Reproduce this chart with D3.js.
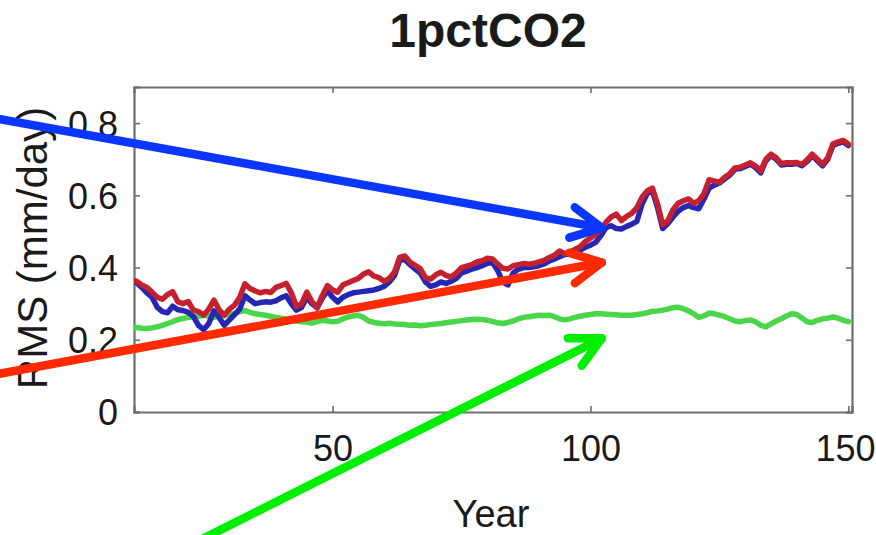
<!DOCTYPE html>
<html>
<head>
<meta charset="utf-8">
<script src="https://cdn.jsdelivr.net/npm/d3@7"></script>
<style>
  html, body { margin: 0; padding: 0; background: #fff; }
  svg { display: block; }
  text { font-family: "Liberation Sans", Arial, Helvetica, sans-serif; fill: #1a1a1a; }
</style>
</head>
<body>
<svg id="chart" width="876" height="535"></svg>
<script>
// Model years (annual values, years 11-150)
const years = d3.range(11, 151);

// RMS precipitation difference (mm/day), three series
const redSeries = [
  0.365, 0.362, 0.352, 0.345, 0.332, 0.318, 0.312, 0.325, 0.333, 0.305,
  0.300, 0.306, 0.282, 0.278, 0.268, 0.285, 0.310, 0.283, 0.268, 0.285,
  0.296, 0.318, 0.355, 0.342, 0.335, 0.330, 0.334, 0.331, 0.345, 0.350,
  0.356, 0.330, 0.292, 0.300, 0.332, 0.305, 0.290, 0.322, 0.350, 0.338,
  0.332, 0.352, 0.358, 0.364, 0.370, 0.382, 0.388, 0.376, 0.372, 0.362,
  0.370, 0.388, 0.428, 0.432, 0.415, 0.406, 0.397, 0.372, 0.368, 0.380,
  0.387, 0.378, 0.374, 0.385, 0.400, 0.404, 0.408, 0.416, 0.419, 0.426,
  0.424, 0.410, 0.398, 0.396, 0.405, 0.408, 0.411, 0.409, 0.411, 0.416,
  0.420, 0.428, 0.434, 0.446, 0.438, 0.444, 0.450, 0.458, 0.472, 0.482,
  0.492, 0.505, 0.525, 0.540, 0.548, 0.530, 0.542, 0.550, 0.566, 0.595,
  0.612, 0.620, 0.576, 0.518, 0.530, 0.560, 0.578, 0.585, 0.590, 0.578,
  0.585, 0.605, 0.643, 0.640, 0.636, 0.650, 0.660, 0.676, 0.678, 0.684,
  0.690, 0.681, 0.668, 0.700, 0.714, 0.704, 0.688, 0.690, 0.690, 0.691,
  0.686, 0.698, 0.714, 0.700, 0.686, 0.704, 0.742, 0.748, 0.752, 0.742
];
const blueSeries = [
  0.362, 0.358, 0.345, 0.330, 0.318, 0.290, 0.278, 0.275, 0.293, 0.283,
  0.281, 0.276, 0.265, 0.240, 0.228, 0.245, 0.280, 0.262, 0.240, 0.255,
  0.270, 0.285, 0.322, 0.310, 0.300, 0.303, 0.305, 0.304, 0.308, 0.316,
  0.322, 0.300, 0.282, 0.290, 0.318, 0.300, 0.288, 0.315, 0.336, 0.318,
  0.305, 0.318, 0.325, 0.330, 0.332, 0.334, 0.336, 0.338, 0.342, 0.348,
  0.360, 0.378, 0.420, 0.422, 0.408, 0.396, 0.385, 0.360, 0.348, 0.352,
  0.360, 0.356, 0.362, 0.370, 0.385, 0.390, 0.396, 0.400, 0.405, 0.412,
  0.414, 0.392, 0.360, 0.352, 0.385, 0.395, 0.400, 0.400, 0.402, 0.405,
  0.410, 0.418, 0.424, 0.430, 0.436, 0.438, 0.441, 0.448, 0.456, 0.462,
  0.470, 0.488, 0.510, 0.516, 0.508, 0.507, 0.514, 0.520, 0.528, 0.576,
  0.605, 0.612, 0.566, 0.508, 0.522, 0.540, 0.556, 0.566, 0.572, 0.566,
  0.563, 0.590, 0.620, 0.628, 0.634, 0.645, 0.656, 0.672, 0.674, 0.680,
  0.686, 0.677, 0.662, 0.696, 0.710, 0.700, 0.684, 0.686, 0.686, 0.688,
  0.682, 0.694, 0.710, 0.696, 0.682, 0.700, 0.738, 0.744, 0.748, 0.738
];
const greenSeries = [
  0.236, 0.234, 0.232, 0.231, 0.233, 0.236, 0.240, 0.245, 0.250, 0.256,
  0.259, 0.262, 0.263, 0.265, 0.268, 0.266, 0.262, 0.265, 0.268, 0.271,
  0.273, 0.278, 0.281, 0.276, 0.272, 0.270, 0.268, 0.265, 0.262, 0.260,
  0.257, 0.254, 0.252, 0.250, 0.249, 0.246, 0.250, 0.254, 0.252, 0.250,
  0.251, 0.258, 0.263, 0.266, 0.268, 0.262, 0.252, 0.248, 0.246, 0.244,
  0.246, 0.244, 0.243, 0.242, 0.240, 0.241, 0.239, 0.240, 0.242, 0.244,
  0.245, 0.247, 0.249, 0.251, 0.253, 0.255, 0.256, 0.257, 0.256, 0.254,
  0.251, 0.247, 0.245, 0.248, 0.252, 0.258, 0.262, 0.264, 0.266, 0.268,
  0.267, 0.268, 0.264, 0.258, 0.255, 0.258, 0.262, 0.265, 0.268, 0.270,
  0.272, 0.272, 0.271, 0.270, 0.269, 0.268, 0.268, 0.268, 0.270, 0.272,
  0.275, 0.279, 0.280, 0.282, 0.285, 0.289, 0.290, 0.286, 0.280, 0.272,
  0.262, 0.266, 0.274, 0.272, 0.268, 0.264, 0.258, 0.252, 0.250, 0.253,
  0.255, 0.250, 0.240, 0.236, 0.244, 0.252, 0.258, 0.266, 0.272, 0.270,
  0.260, 0.250, 0.248, 0.254, 0.258, 0.260, 0.263, 0.260, 0.254, 0.250
];

const xTicks = [50, 100, 150];
const yTicks = [0, 0.2, 0.4, 0.6, 0.8];

// Annotation arrows: tail and tip in data units (year, mm/day)
const arrowNames = ["blue", "red", "green"];
const arrowTails = [[-14.5, 0.811], [-15.0, 0.105], [25.0, -0.350]];
const arrowTips  = [[102.2, 0.510], [102.2, 0.414], [102.2, 0.204]];

const svg = d3.select("#chart");
const W = 876;
const plot = { left: 134, right: 852, top: 87, bottom: 412 };

const x = d3.scaleLinear().domain([11.5, 150.7]).range([plot.left, plot.right]);
const y = d3.scaleLinear().domain([0, 0.9]).range([plot.bottom, plot.top]);

// Clip region for the data lines
svg.append("defs").append("clipPath").attr("id", "plotClip")
  .append("rect")
  .attr("x", plot.left).attr("y", plot.top)
  .attr("width", plot.right - plot.left).attr("height", plot.bottom - plot.top);

// Title
svg.append("text")
  .attr("x", 488).attr("y", 47)
  .attr("text-anchor", "middle")
  .style("font-size", "48px").style("font-weight", "bold")
  .text("1pctCO2");

// Axes with inward ticks, mirrored on top and right
const axisColor = "#6e6e6e";
const gx = svg.append("g").attr("transform", `translate(0,${plot.bottom})`)
  .call(d3.axisBottom(x).tickValues(xTicks).tickSize(-6).tickPadding(20).tickFormat(d3.format("d")));
const gy = svg.append("g").attr("transform", `translate(${plot.left},0)`)
  .call(d3.axisLeft(y).tickValues(yTicks).tickSize(-6).tickPadding(16).tickFormat(d => d === 0 ? "0" : d3.format(".1f")(d)));
const gxTop = svg.append("g").attr("transform", `translate(0,${plot.top})`)
  .call(d3.axisTop(x).tickValues(xTicks).tickSize(-6).tickFormat(""));
const gyRight = svg.append("g").attr("transform", `translate(${plot.right},0)`)
  .call(d3.axisRight(y).tickValues(yTicks).tickSize(-6).tickFormat(""));

[gx, gy, gxTop, gyRight].forEach(g => {
  g.select(".domain").attr("stroke", axisColor).attr("stroke-width", 2.2);
  g.selectAll(".tick line").attr("stroke", axisColor).attr("stroke-width", 1.6);
  g.selectAll(".tick text")
    .style("font-size", "36px")
    .style("font-family", "'Liberation Sans', Arial, sans-serif")
    .attr("fill", "#1a1a1a");
});
gx.selectAll(".tick text").attr("dy", "0.8em");
gy.selectAll(".tick text").attr("dy", "0.36em");

// Keep the last x tick label inside the canvas edge
gx.selectAll(".tick text").each(function (d) {
  const t = d3.select(this);
  const half = this.getComputedTextLength() / 2;
  const overflow = x(d) + half - (W - 1);
  if (overflow > 0) t.attr("x", -overflow);
});

// Axis labels
svg.append("text")
  .attr("x", 491).attr("y", 527)
  .attr("text-anchor", "middle")
  .style("font-size", "38px")
  .text("Year");

svg.append("text")
  .attr("transform", "translate(47,248) rotate(-90)")
  .attr("text-anchor", "middle")
  .style("font-size", "42px")
  .text("RMS (mm/day)");

// Data lines
const line = d3.line()
  .x((d, i) => x(years[i]))
  .y(d => y(d))
  .curve(d3.curveLinear);

const linesG = svg.append("g").attr("clip-path", "url(#plotClip)");
const seriesDefs = [
  { values: greenSeries, color: "#4ad64a" },
  { values: blueSeries,  color: "#2626b4" },
  { values: redSeries,   color: "#c4202e" }
];
linesG.selectAll("path.series")
  .data(seriesDefs)
  .join("path")
  .attr("class", "series")
  .attr("d", d => line(d.values))
  .attr("fill", "none")
  .attr("stroke", d => d.color)
  .attr("stroke-width", 5.5)
  .attr("stroke-linejoin", "round")
  .attr("stroke-linecap", "round");

// Arrows pointing to each series
const arrowColors = { blue: "#0a36ff", red: "#ff2a00", green: "#00ee00" };
const headLen = 34, headAngle = 27 * Math.PI / 180;
arrowNames.forEach((name, i) => {
  const [tx, ty] = [x(arrowTails[i][0]), y(arrowTails[i][1])];
  const [px, py] = [x(arrowTips[i][0]), y(arrowTips[i][1])];
  const back = Math.atan2(ty - py, tx - px);
  const w1 = [px + headLen * Math.cos(back + headAngle), py + headLen * Math.sin(back + headAngle)];
  const w2 = [px + headLen * Math.cos(back - headAngle), py + headLen * Math.sin(back - headAngle)];
  const g = svg.append("g")
    .attr("fill", "none")
    .attr("stroke", arrowColors[name])
    .attr("stroke-width", 8.5)
    .attr("stroke-linecap", "round")
    .attr("stroke-linejoin", "round");
  g.append("line").attr("x1", tx).attr("y1", ty).attr("x2", px).attr("y2", py);
  g.append("path").attr("d", d3.line()([w1, [px, py], w2]));
});
</script>
</body>
</html>
